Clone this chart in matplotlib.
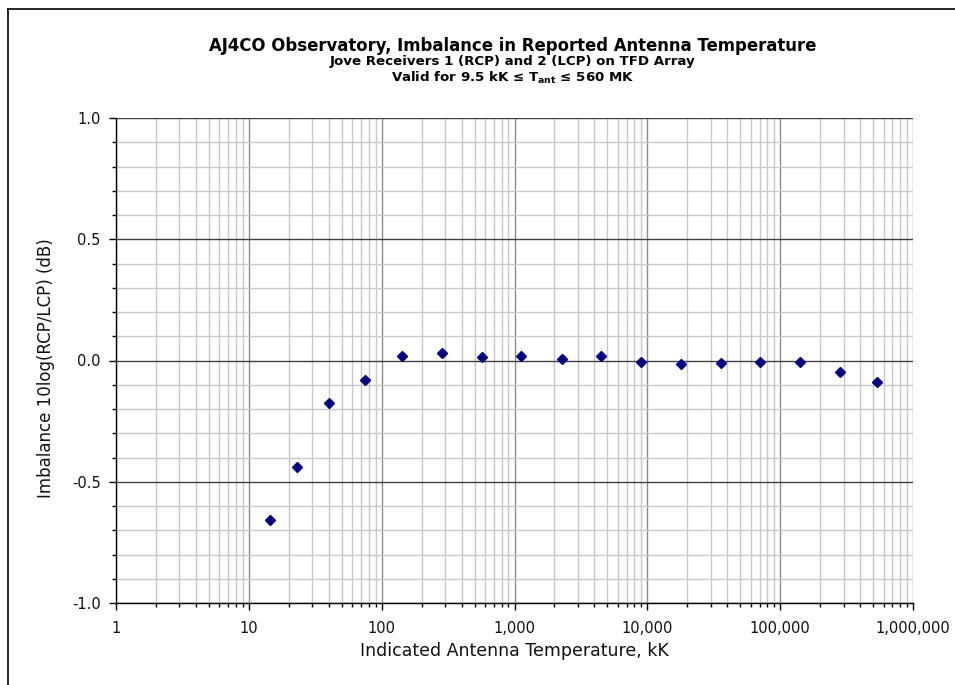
import numpy as np
import matplotlib.pyplot as plt
from matplotlib.ticker import FuncFormatter, MultipleLocator, FixedLocator, NullFormatter
from matplotlib.lines import Line2D

# data
temp_kk = [14.4, 23, 40, 75, 142, 284, 570, 1120, 2290, 4470, 8930,
           17800, 35600, 71000, 142000, 283000, 535000]
imbalance_db = [-0.656, -0.441, -0.177, -0.082, 0.017, 0.029, 0.013, 0.02, 0.005,
                0.02, -0.008, -0.015, -0.012, -0.006, -0.006, -0.048, -0.087]
x_ticks = [1, 10, 100, 1000, 10000, 100000, 1000000]

plt.rcParams['font.family'] = ['DejaVu Sans']

fig = plt.figure(figsize=(9.55, 6.85), dpi=100)
ax = fig.add_axes([116/955, 1-603/685, (913-116)/955, (603-118)/685])

ax.set_xscale('log')
ax.set_xlim(1, 1e6)
ax.set_ylim(-1.0, 1.0)

# gridlines
ax.yaxis.set_major_locator(MultipleLocator(0.5))
ax.yaxis.set_minor_locator(MultipleLocator(0.1))
ax.xaxis.set_major_locator(FixedLocator(x_ticks))
minor_x = [d * m for d in x_ticks[:-1] for m in range(2, 10)]
ax.xaxis.set_minor_locator(FixedLocator(minor_x))
ax.xaxis.set_minor_formatter(NullFormatter())
ax.grid(which='minor', axis='both', color='#c8c8c8', linewidth=1.0)
ax.grid(which='major', axis='x', color='#8c8c8c', linewidth=1.0)
ax.grid(which='major', axis='y', color='#404040', linewidth=1.0)
ax.set_axisbelow(True)

ax.plot(temp_kk, imbalance_db, linestyle='none', marker='D', markersize=5.5,
        color='#000080', zorder=3)

ax.xaxis.set_major_formatter(FuncFormatter(lambda v, p: f'{v:,.0f}'))
ax.yaxis.set_major_formatter(FuncFormatter(lambda v, p: f'{v:.1f}'))
ax.tick_params(which='major', direction='out', length=5, width=1, labelsize=10.5,
               color='black', labelcolor='#111111')
ax.tick_params(which='minor', direction='out', length=3, width=1, color='black')
ax.tick_params(axis='x', pad=8)
ax.tick_params(axis='y', pad=6)

for s in ['top', 'right']:
    ax.spines[s].set_visible(False)
for s in ['left', 'bottom']:
    ax.spines[s].set_color('black')
    ax.spines[s].set_linewidth(1.0)

ax.set_xlabel('Indicated Antenna Temperature, kK', fontsize=12.5, color='#111111', labelpad=4)
ax.set_ylabel('Imbalance 10log(RCP/LCP) (dB)', fontsize=12, color='#111111')
ax.yaxis.set_label_coords((55-116)/797, (603-368)/485)

cx = 513/955
fig.text(cx, 1-46/685, 'AJ4CO Observatory, Imbalance in Reported Antenna Temperature',
         ha='center', va='center', fontsize=11.9, fontweight='bold')
fig.text(cx, 1-62/685, 'Jove Receivers 1 (RCP) and 2 (LCP) on TFD Array',
         ha='center', va='center', fontsize=9.6, fontweight='bold')
fig.text(cx, 1-78/685, 'Valid for 9.5 kK ≤ T$_{\\mathbf{ant}}$ ≤ 560 MK',
         ha='center', va='center', fontsize=9.6, fontweight='bold')

# outer chart border
fig.add_artist(Line2D([8/955, 8/955], [0, 1-9/685], color='black', linewidth=1.2,
                      transform=fig.transFigure))
fig.add_artist(Line2D([8/955, 1], [1-9/685, 1-9/685], color='black', linewidth=1.2,
                      transform=fig.transFigure))

fig.savefig('out.png', dpi=100)
